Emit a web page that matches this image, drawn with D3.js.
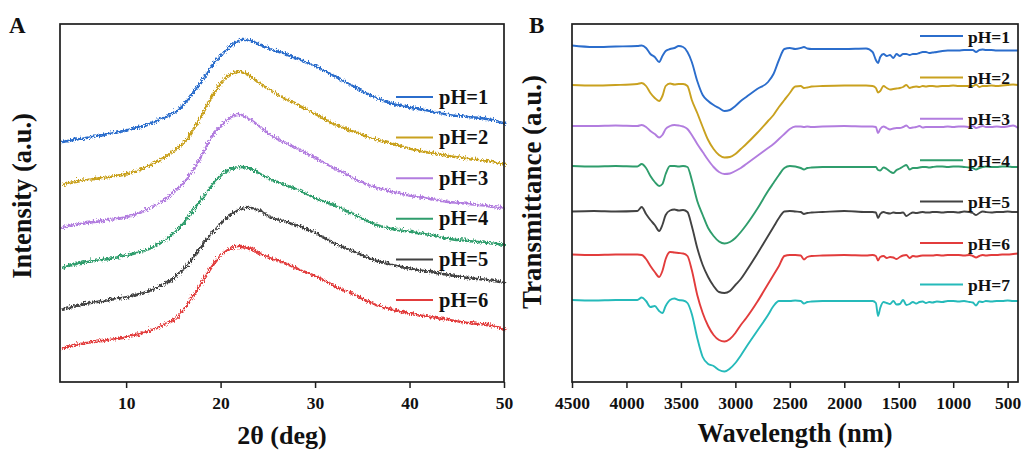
<!DOCTYPE html>
<html>
<head>
<meta charset="utf-8">
<script src="https://cdn.jsdelivr.net/npm/d3@7"></script>
<style>
  html, body { margin: 0; padding: 0; background: #fff; }
  svg { display: block; font-family: "Liberation Serif", "Times New Roman", serif; font-weight: bold; }
</style>
</head>
<body>
<svg id="fig" width="1022" height="455"></svg>
<script>
// ---------- Panel A: XRD patterns (2θ in degrees, intensity in a.u., stacked) ----------
const xrdAngles = [3, 5, 8, 10, 12, 14, 15, 16, 17, 18,
                   19, 20, 21, 22, 23, 24, 25, 26, 28,
                   30, 32, 34, 36, 38, 40, 42, 44, 46, 48, 50];
const xrdPH1 = [260, 263, 268, 272, 277, 285, 290, 298, 310, 323,
                337, 347, 357, 362, 361, 357, 353, 350, 343,
                335, 325, 315, 305, 298, 294, 291, 287, 285, 283, 278];
const xrdPH2 = [217, 221, 225, 228, 235, 245, 252, 260, 273, 290,
                307, 320, 328, 330, 325, 318, 312, 306, 297,
                287, 277, 270, 263, 258, 253, 249, 246, 243, 241, 237];
const xrdPH3 = [174, 178, 182, 185, 192, 203, 211, 220, 233, 250,
                267, 277, 285, 287, 282, 275, 267, 262, 253,
                243, 233, 223, 215, 210, 206, 203, 200, 198, 196, 193];
const xrdPH4 = [134, 139, 143, 147, 152, 162, 170, 180, 192, 205,
                218, 228, 233, 235, 233, 228, 223, 219, 212,
                203, 196, 187, 178, 173, 170, 167, 163, 161, 159, 157];
const xrdPH5 = [92, 97, 102, 105, 110, 118, 125, 133, 145, 158,
                170, 180, 188, 193, 194, 191, 185, 182, 176,
                168, 158, 150, 142, 137, 133, 130, 127, 124, 122, 119];
const xrdPH6 = [53, 58, 62, 65, 70, 78, 83, 93, 107, 122,
                137, 148, 154, 155, 153, 148, 144, 141, 133,
                125, 115, 107, 98, 92, 88, 85, 82, 79, 77, 72];
const xrdLabels = ["pH=1", "pH=2", "pH=3", "pH=4", "pH=5", "pH=6"];
const xrdTicks = [10, 20, 30, 40, 50];

// ---------- Panel B: FTIR spectra (transmittance in a.u., stacked) ----------
const ftirWavenumbers = [
  4500, 4300, 4100, 3900, 3860, 3820, 3780, 3740, 3700,
  3670, 3640, 3600, 3560, 3520, 3480, 3440,
  3400, 3350, 3300, 3250, 3200, 3150, 3100, 3050,
  3000, 2950, 2900, 2800, 2700, 2650, 2600, 2550, 2500, 2450,
  2400, 2370, 2340, 2300, 2200, 2000, 1800,
  1740, 1710, 1690, 1670, 1640, 1610, 1580, 1550, 1520, 1490, 1460, 1430, 1400,
  1370, 1340, 1310, 1280, 1250, 1220, 1190, 1150, 1100, 1050, 1000,
  950, 900, 850, 820, 790, 760, 730, 700, 650, 600, 550, 500, 450, 405];
const ftirPH1 = [
  354.5, 353, 353.5, 354, 354.5, 352, 346, 343, 338,
  344, 349, 351, 352, 354, 353, 348,
  338, 319, 305, 299, 295, 292, 289, 290,
  294, 299, 303, 311, 318, 326, 340, 351, 352, 351,
  352, 353, 351.5, 351, 351, 351, 351.5,
  348, 340, 337, 343, 346, 344, 345, 342, 346, 344, 346, 346, 345,
  346, 346, 347, 348, 348, 347, 347.5, 348, 349, 349.5, 349.5,
  349.5, 350, 350, 350, 348, 350, 350.5, 350, 350, 349.5, 349.5, 349.5, 349.5, 349.5];
const ftirPH2 = [
  315, 314.5, 315, 316, 317, 314, 307, 302, 299,
  304, 314, 316.5, 315.5, 316, 316, 314,
  300, 287, 273, 260, 251, 245, 242.5, 243,
  246, 251, 256, 267, 279, 285, 293, 300, 307, 313.5,
  314, 312, 312.5, 313.5, 314, 314.5, 314.5,
  314, 312, 307.5, 309, 314, 312, 310.5, 311, 311.5, 312, 313, 315, 312,
  313, 313.5, 313, 314, 313.5, 314, 314, 313.5, 314, 314, 314.5,
  314, 314, 314, 314, 315.5, 313, 314, 314, 314.5, 314, 314.5, 315, 315.5, 315];
const ftirPH3 = [
  274, 274, 274.5, 274, 275, 273, 269, 266, 262.5,
  265, 271, 274, 275, 274.5, 273.5, 271,
  265, 256, 248, 240, 233, 228, 226, 226.5,
  229, 232, 236, 244, 252, 256, 261, 266, 271, 273.5,
  273.5, 273, 273.5, 273, 273.5, 274, 273.5,
  273.5, 273, 267, 271, 273.5, 272, 270.5, 271.5, 272, 272, 273, 274.5, 272,
  272.5, 273, 274, 272.5, 273, 273, 273, 273, 273, 273.5, 273,
  273.5, 273.5, 273, 274, 272, 273, 274, 273, 273, 273.5, 273, 273.5, 274.5, 272];
const ftirPH4 = [
  234, 233.5, 234, 233.5, 236, 232, 224, 218, 214,
  216, 226, 234, 234, 233.5, 234, 233,
  220, 199, 185, 172, 164, 158.5, 156.5, 158,
  162, 168, 175, 191, 209, 217, 225, 232, 234, 233.5,
  232, 230.5, 232, 232.5, 233, 233, 233,
  233, 233, 230, 229.5, 232.5, 231, 228.5, 227, 230, 231.5, 233.5, 235, 230.5,
  232, 232, 232.5, 233, 233, 232.5, 233, 233.5, 233.5, 233, 233.5,
  233.5, 233, 232.5, 232, 230.5, 232, 233, 233.5, 233, 233, 233.5, 233.5, 233, 233];
const ftirPH5 = [
  188.5, 189, 188.5, 189, 193, 186, 180, 175, 169,
  175, 185, 189.5, 190.5, 189.5, 190, 188,
  174, 152, 135, 123, 114, 108, 107, 109,
  115, 121, 129, 146, 164, 173, 182, 188.5, 189, 188.5,
  188, 186, 187, 187.5, 188, 189, 188,
  188, 187.5, 182, 186, 188, 187, 186.5, 187.5, 187, 187, 187.5, 184, 186,
  187.5, 187, 187.5, 188, 187.5, 187.5, 188, 188, 187.5, 188, 188,
  187.5, 188.5, 188, 187, 185, 187, 188.5, 188, 187.5, 188, 188, 188.5, 188, 188];
const ftirPH6 = [
  145.5, 145, 145.5, 145.5, 145, 141, 134, 128, 123,
  129, 141, 148, 147.5, 147, 146.5, 144,
  130, 105, 87, 74, 65, 60, 58.5, 61,
  67, 75, 82, 98, 116, 125, 134, 144, 145, 145,
  144.5, 140.5, 143, 144, 144.5, 145, 144.5,
  145, 144, 139.5, 143, 144, 142, 143, 142.5, 141, 143, 144.5, 145, 142,
  144, 143.5, 144, 144.5, 144.5, 144.5, 144.5, 145, 144.5, 145, 145,
  145, 144.5, 145, 144, 142.5, 144, 145, 144.5, 145, 145, 145.5, 145.5, 146, 146.5];
const ftirPH7 = [
  100, 99.5, 100, 100, 102.5, 99, 93, 94, 89,
  87, 94, 100, 101.5, 100, 99.5, 97,
  86, 62, 43, 36, 34, 30, 28.5, 31.5,
  37, 44.5, 53, 69, 85, 94, 99, 99, 99, 99.5,
  99, 96.5, 98, 98.5, 99, 99, 99,
  99, 97, 84, 92, 98, 97, 96, 99, 95.5, 96, 100, 95, 96,
  98, 96.5, 98, 98.5, 97, 98, 97.5, 98.5, 98, 99, 99,
  98.5, 99, 98, 97.5, 94.5, 98.5, 98, 99, 98.5, 99, 99, 99.5, 99, 99];
const ftirLabels = ["pH=1", "pH=2", "pH=3", "pH=4", "pH=5", "pH=6", "pH=7"];
const ftirTicks = [4500, 4000, 3500, 3000, 2500, 2000, 1500, 1000, 500];

// ---------- Styling ----------
const seriesColors = ["#2b6dcc", "#c9a11f", "#b27ddf", "#2f9d6c", "#424242", "#e23c3c", "#25baba"];
const frameColor = "#1e1e1e";

const svg = d3.select("#fig");

// High-frequency grain for the XRD traces (detector noise look)
const defs = svg.append("defs");
const grain = defs.append("filter").attr("id", "grain")
  .attr("x", "-2%").attr("y", "-30%").attr("width", "104%").attr("height", "160%");
grain.append("feTurbulence").attr("type", "turbulence")
  .attr("baseFrequency", "0.6 0.3").attr("numOctaves", 1).attr("seed", 4).attr("result", "t");
grain.append("feDisplacementMap").attr("in", "SourceGraphic").attr("in2", "t")
  .attr("scale", 5).attr("xChannelSelector", "G").attr("yChannelSelector", "R");

const yScale = d3.scaleLinear().domain([18, 376]).range([382, 24]);

function drawFrame(x0, x1) {
  svg.append("rect")
    .attr("x", x0).attr("y", 24).attr("width", x1 - x0).attr("height", 358)
    .attr("fill", "none").attr("stroke", frameColor).attr("stroke-width", 1.7);
}

function drawXAxis(scale, ticks) {
  const g = svg.append("g").attr("transform", "translate(0,382)")
    .call(d3.axisBottom(scale).tickValues(ticks).tickSize(6).tickSizeOuter(0).tickPadding(9)
      .tickFormat(d3.format("d")));
  g.select(".domain").remove();
  g.selectAll(".tick line").attr("stroke", frameColor).attr("stroke-width", 1.5);
  g.selectAll(".tick text")
    .attr("font-family", "'Liberation Serif', 'Times New Roman', serif")
    .attr("font-weight", "bold").attr("font-size", 17.5).attr("fill", "#111");
}

// ---------- Panel A ----------
const xA = d3.scaleLinear().domain([3, 50]).range([60, 504]);
const xrdSeries = [xrdPH1, xrdPH2, xrdPH3, xrdPH4, xrdPH5, xrdPH6];
const lineA = d3.line()
  .x((d, i) => xA(xrdAngles[i]))
  .y(d => yScale(d))
  .curve(d3.curveCatmullRom.alpha(0.5));

const gA = svg.append("g");
xrdSeries.forEach((s, k) => {
  gA.append("path").attr("d", lineA(s))
    .attr("fill", "none").attr("stroke", seriesColors[k])
    .attr("stroke-width", 2.4).attr("filter", "url(#grain)");
});
drawFrame(60, 504);
drawXAxis(xA, xrdTicks);

// legend A
const legA = svg.append("g");
xrdLabels.forEach((lab, k) => {
  const yy = 97 + k * 40.6;
  legA.append("line").attr("x1", 396).attr("x2", 433).attr("y1", yy).attr("y2", yy)
    .attr("stroke", seriesColors[k]).attr("stroke-width", 2);
  legA.append("text").attr("x", 439).attr("y", yy + 6.5).attr("font-size", 20.5)
    .attr("fill", "#111").text(lab);
});

svg.append("text").attr("x", 282).attr("y", 444).attr("text-anchor", "middle")
  .attr("font-size", 26).attr("fill", "#111").text("2θ (deg)");
svg.append("text").attr("transform", "translate(31,196) rotate(-90)")
  .attr("text-anchor", "middle").attr("font-size", 26.5).attr("fill", "#111")
  .text("Intensity (a.u.)");
svg.append("text").attr("x", 9).attr("y", 33).attr("font-size", 23).attr("fill", "#111").text("A");

// ---------- Panel B ----------
const xB = d3.scaleLinear().domain([4500, 405]).range([572, 1018]);
const ftirSeries = [ftirPH1, ftirPH2, ftirPH3, ftirPH4, ftirPH5, ftirPH6, ftirPH7];
const lineB = d3.line()
  .x((d, i) => xB(ftirWavenumbers[i]))
  .y(d => yScale(d))
  .curve(d3.curveMonotoneX);

const gB = svg.append("g");
ftirSeries.forEach((s, k) => {
  gB.append("path").attr("d", lineB(s))
    .attr("fill", "none").attr("stroke", seriesColors[k])
    .attr("stroke-width", 1.9).attr("stroke-linejoin", "round");
});
drawFrame(572, 1018);
drawXAxis(xB, ftirTicks);

// legend B
const legB = svg.append("g");
ftirLabels.forEach((lab, k) => {
  const yy = 36 + k * 41.4;
  legB.append("line").attr("x1", 920).attr("x2", 963).attr("y1", yy).attr("y2", yy)
    .attr("stroke", seriesColors[k]).attr("stroke-width", 2);
  legB.append("text").attr("x", 968).attr("y", yy + 6.5).attr("font-size", 17.5)
    .attr("fill", "#111").text(lab);
});

svg.append("text").attr("x", 795).attr("y", 442).attr("text-anchor", "middle")
  .attr("font-size", 26.5).attr("fill", "#111").text("Wavelength (nm)");
svg.append("text").attr("transform", "translate(541,192) rotate(-90)")
  .attr("text-anchor", "middle").attr("font-size", 27).attr("fill", "#111")
  .text("Transmittance (a.u.)");
svg.append("text").attr("x", 529).attr("y", 33).attr("font-size", 23).attr("fill", "#111").text("B");
</script>
</body>
</html>
